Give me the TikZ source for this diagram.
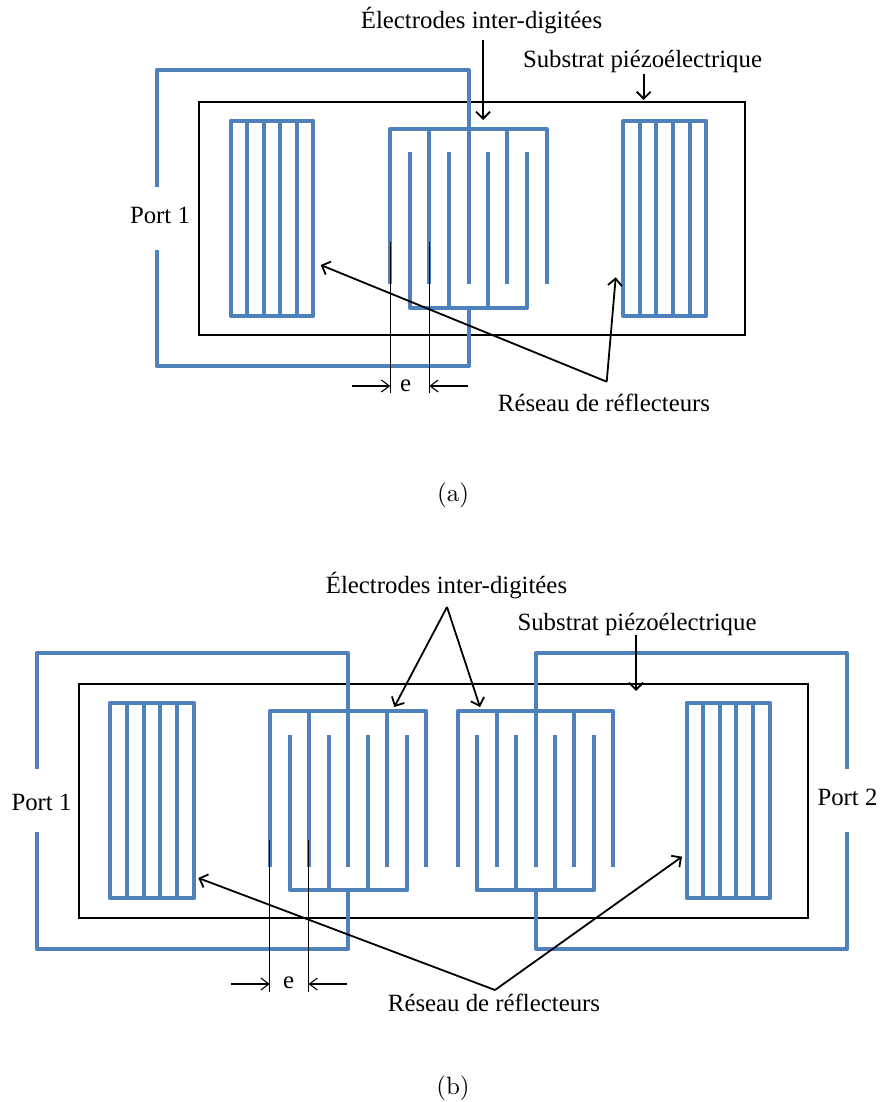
\documentclass[tikz,border=0pt]{standalone}
\usepackage{fontspec}
\newfontfamily\timesf{Liberation Serif}
\usetikzlibrary{arrows.meta}
\definecolor{elec}{HTML}{4F81BD}
\tikzset{
  wire/.style={draw=elec,line width=4pt,line join=round},
  subst/.style={draw=black,line width=2pt,line join=miter},
  leadarrow/.style={draw=black,line width=1.8pt,-{Straight Barb[length=7pt,width=14pt,line width=1.8pt]}},
  ticks/.style={draw=black,line width=1.1pt},
  dimarrow/.style={draw=black,line width=1.1pt,-{Straight Barb[length=8pt,width=12pt,line width=1.1pt]}},
  lbl/.style={anchor=base,inner sep=0pt,font=\timesf\fontsize{24.8}{30}\selectfont},
  captext/.style={anchor=base,inner sep=0pt,scale=2.5}
}
\begin{document}
\begin{tikzpicture}[x=1pt,y=-1pt]
\useasboundingbox (0,0) rectangle (879,1102);
\fill[white] (0,0) rectangle (879,1102);

% ---------- (a) ----------
\draw[subst] (199.3,101.7) rectangle (745.3,335.3);
\draw[wire] (156.7,186.7) -- (156.7,70.3) -- (468.7,70.3) -- (468.7,284.3);
\draw[wire] (156.7,250) -- (156.7,366) -- (468.7,366) -- (468.7,308);
% reflectors
\draw[wire] (230.7,120.7) rectangle (313.3,316);
\foreach \x in {247.3,263.7,280.3,297} \draw[wire] (\x,120.7) -- (\x,316);
\draw[wire] (623.3,120.7) rectangle (706,316);
\foreach \x in {640,656.3,673,689.7} \draw[wire] (\x,120.7) -- (\x,316);
% IDT
\draw[wire] (390.3,284.3) -- (390.3,129) -- (546.7,129) -- (546.7,284.3);
\foreach \x in {429.3,507} \draw[wire] (\x,129) -- (\x,284.3);
\draw[wire] (410,152.3) -- (410,308) -- (526.7,308) -- (526.7,152.3);
\foreach \x in {448.7,487.7} \draw[wire] (\x,152.3) -- (\x,308);
% dimension
\coordinate (ae1t) at (390.3,241.7); \coordinate (ae1b) at (390.3,393.3);
\coordinate (ae2t) at (429.3,241.7); \coordinate (ae2b) at (429.3,393.3);
\draw[ticks] (ae1t) -- (ae1b);
\draw[ticks] (ae2t) -- (ae2b);
\coordinate (ad1s) at (351.7,386); \coordinate (ad1e) at (390.3,386);
\coordinate (ad2s) at (468,386); \coordinate (ad2e) at (429.3,386);
\draw[dimarrow] (ad1s) -- (ad1e);
\draw[dimarrow] (ad2s) -- (ad2e);
\node[lbl] (ae) at (405.5,391) {e};
% labels
\node[lbl] (aelec) at (481.5,28.3) {Électrodes inter-digitées};
\node[lbl] (asub) at (642.5,67.7) {Substrat piézoélectrique};
\node[lbl] (aport) at (160,223.5) {Port 1};
\node[lbl] (ares) at (604,411) {Réseau de réflecteurs};
\node[captext] (acap) at (453,501) {(a)};
% leaders
\coordinate (aelecS) at (483,40); \coordinate (aelecE) at (483,120);
\coordinate (asubS) at (643.7,74); \coordinate (asubE) at (643.7,100);
\coordinate (aresV) at (606.7,381.7);
\coordinate (aresL) at (320.7,265); \coordinate (aresR) at (615.7,277.3);
\draw[leadarrow] (aelecS) -- (aelecE);
\draw[leadarrow] (asubS) -- (asubE);
\draw[leadarrow] (aresV) -- (aresL);
\draw[leadarrow] (aresV) -- (aresR);

% ---------- (b) ----------
\draw[subst] (79.3,684) rectangle (808.3,917.7);
\draw[wire] (36.7,769.3) -- (36.7,653) -- (348.3,653) -- (348.3,867);
\draw[wire] (36.7,832.3) -- (36.7,949) -- (348.3,949) -- (348.3,890.3);
\draw[wire] (847.3,769.3) -- (847.3,653) -- (535.7,653) -- (535.7,867);
\draw[wire] (847.3,832.3) -- (847.3,949) -- (535.7,949) -- (535.7,890.3);
% reflectors
\draw[wire] (110.3,702.7) rectangle (193.7,898.3);
\foreach \x in {127,143.7,160.3,177} \draw[wire] (\x,702.7) -- (\x,898.3);
\draw[wire] (686.7,702.7) rectangle (770,898.3);
\foreach \x in {703.3,720,736.3,753} \draw[wire] (\x,702.7) -- (\x,898.3);
% IDT 1
\draw[wire] (270.3,867) -- (270.3,711) -- (426.3,711) -- (426.3,867);
\foreach \x in {309.3,387.3} \draw[wire] (\x,711) -- (\x,867);
\draw[wire] (290,735) -- (290,890.3) -- (407,890.3) -- (407,735);
\foreach \x in {329,368} \draw[wire] (\x,735) -- (\x,890.3);
% IDT 2
\draw[wire] (457.7,867) -- (457.7,711) -- (613.3,711) -- (613.3,867);
\foreach \x in {496.7,574.3} \draw[wire] (\x,711) -- (\x,867);
\draw[wire] (476.7,735) -- (476.7,890.3) -- (594,890.3) -- (594,735);
\foreach \x in {516,555} \draw[wire] (\x,735) -- (\x,890.3);
% dimension
\coordinate (be1t) at (269.8,840); \coordinate (be1b) at (269.8,991.7);
\coordinate (be2t) at (308.5,840); \coordinate (be2b) at (308.5,991.7);
\draw[ticks] (be1t) -- (be1b);
\draw[ticks] (be2t) -- (be2b);
\coordinate (bd1s) at (230.7,984); \coordinate (bd1e) at (269.8,984);
\coordinate (bd2s) at (347.3,984); \coordinate (bd2e) at (308.5,984);
\draw[dimarrow] (bd1s) -- (bd1e);
\draw[dimarrow] (bd2s) -- (bd2e);
\node[lbl] (be) at (288.5,988.5) {e};
% labels
\node[lbl] (belec) at (446.5,593.3) {Électrodes inter-digitées};
\node[lbl] (bsub) at (637,630) {Substrat piézoélectrique};
\node[lbl] (bport1) at (41.5,810) {Port 1};
\node[lbl] (bport2) at (847.5,805.7) {Port 2};
\node[lbl] (bres) at (494,1011.5) {Réseau de réflecteurs};
\node[captext] (bcap) at (453,1094) {(b)};
% leaders
\coordinate (belecV) at (447,607);
\coordinate (belecL) at (394.3,707); \coordinate (belecR) at (480,707);
\coordinate (bsubS) at (636,635); \coordinate (bsubE) at (636,691);
\coordinate (bresV) at (495,990);
\coordinate (bresL) at (198.3,878); \coordinate (bresR) at (682,856.7);
\draw[leadarrow] (belecV) -- (belecL);
\draw[leadarrow] (belecV) -- (belecR);
\draw[leadarrow] (bsubS) -- (bsubE);
\draw[leadarrow] (bresV) -- (bresL);
\draw[leadarrow] (bresV) -- (bresR);
\end{tikzpicture}
\end{document}
